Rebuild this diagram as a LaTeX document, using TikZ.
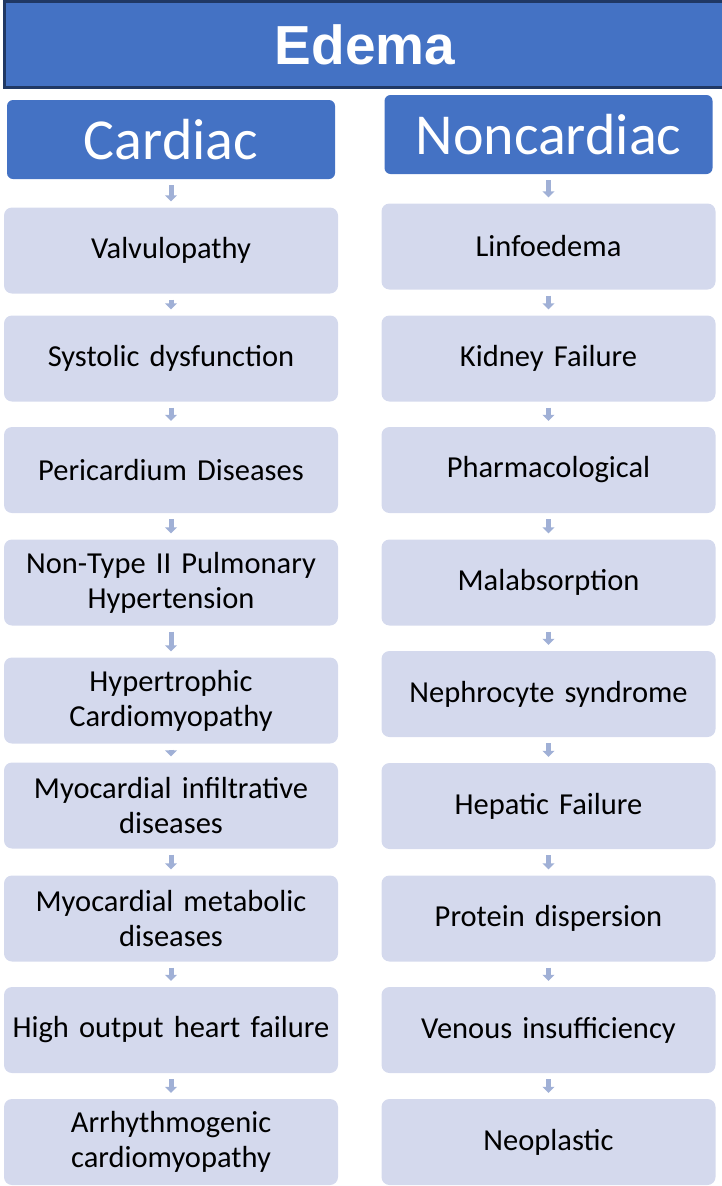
\documentclass[tikz,border=0pt]{standalone}
\usepackage{fontspec}
\setmainfont{Carlito}
\newfontfamily\arialfont{Liberation Sans}
\usetikzlibrary{arrows.meta}
\definecolor{titleblue}{RGB}{68,114,196}
\definecolor{navy}{RGB}{32,56,100}
\definecolor{boxfill}{RGB}{212,217,237}
\definecolor{arrowfill}{RGB}{160,176,214}

\begin{document}
\begin{tikzpicture}[x=1pt,y=-1pt,
  title node/.style={rectangle,draw=navy,line width=3pt,fill=titleblue,text=white,minimum width=722pt,minimum height=86pt,inner sep=0pt,font=\arialfont\bfseries\fontsize{55}{60}\selectfont},
  head node/.style={rectangle,rounded corners=6pt,fill=titleblue,text=white,minimum width=328pt,minimum height=79pt,inner sep=0pt,font=\fontsize{58}{64}\selectfont},
  main node/.style={rectangle,rounded corners=8pt,fill=boxfill,minimum width=334pt,minimum height=86pt,text width=334pt,align=center,inner sep=0pt,font=\fontsize{30.5}{35}\selectfont},
  flow/.style={draw=arrowfill,line width=5pt,shorten <=6pt,shorten >=6pt,-{Triangle[width=12pt,length=6pt]}}]

  \useasboundingbox (0,0) rectangle (722,1186);

  \node[title node] (edema) at (365,44.5) {Edema};

  \node[head node] (card) at (171,139.5) {Cardiac};
  \node[head node] (noncard) at (548.5,134.5) {Noncardiac};

  % cardiac column
  \node[main node] (c1) at (171,250.5) {Valvulopathy};
  \node[main node] (c2) at (171,358.5) {Systolic dysfunction};
  \node[main node] (c3) at (171,470) {Pericardium Diseases};
  \node[main node] (c4) at (171,582.5) {Non-Type II Pulmonary\\Hypertension};
  \node[main node] (c5) at (171,700.5) {Hypertrophic\\Cardiomyopathy};
  \node[main node] (c6) at (171,805.5) {Myocardial infiltrative\\diseases};
  \node[main node] (c7) at (171,918.5) {Myocardial metabolic\\diseases};
  \node[main node] (c8) at (171,1030) {High output heart failure};
  \node[main node] (c9) at (171,1142) {Arrhythmogenic\\cardiomyopathy};

  % noncardiac column
  \node[main node] (n1) at (548.5,246.5) {Linfoedema};
  \node[main node] (n2) at (548.5,358.5) {Kidney Failure};
  \node[main node] (n3) at (548.5,470) {Pharmacological};
  \node[main node] (n4) at (548.5,582.5) {Malabsorption};
  \node[main node] (n5) at (548.5,694) {Nephrocyte syndrome};
  \node[main node] (n6) at (548.5,806) {Hepatic Failure};
  \node[main node] (n7) at (548.5,918.5) {Protein dispersion};
  \node[main node] (n8) at (548.5,1030) {Venous insufficiency};
  \node[main node] (n9) at (548.5,1142) {Neoplastic};

  \draw[flow] (card) -- (c1);
  \draw[flow] (c1) -- (c2);
  \draw[flow] (c2) -- (c3);
  \draw[flow] (c3) -- (c4);
  \draw[flow] (c4) -- (c5);
  \draw[flow] (c5) -- (c6);
  \draw[flow] (c6) -- (c7);
  \draw[flow] (c7) -- (c8);
  \draw[flow] (c8) -- (c9);

  \draw[flow] (noncard) -- (n1);
  \draw[flow] (n1) -- (n2);
  \draw[flow] (n2) -- (n3);
  \draw[flow] (n3) -- (n4);
  \draw[flow] (n4) -- (n5);
  \draw[flow] (n5) -- (n6);
  \draw[flow] (n6) -- (n7);
  \draw[flow] (n7) -- (n8);
  \draw[flow] (n8) -- (n9);
\end{tikzpicture}
\end{document}
